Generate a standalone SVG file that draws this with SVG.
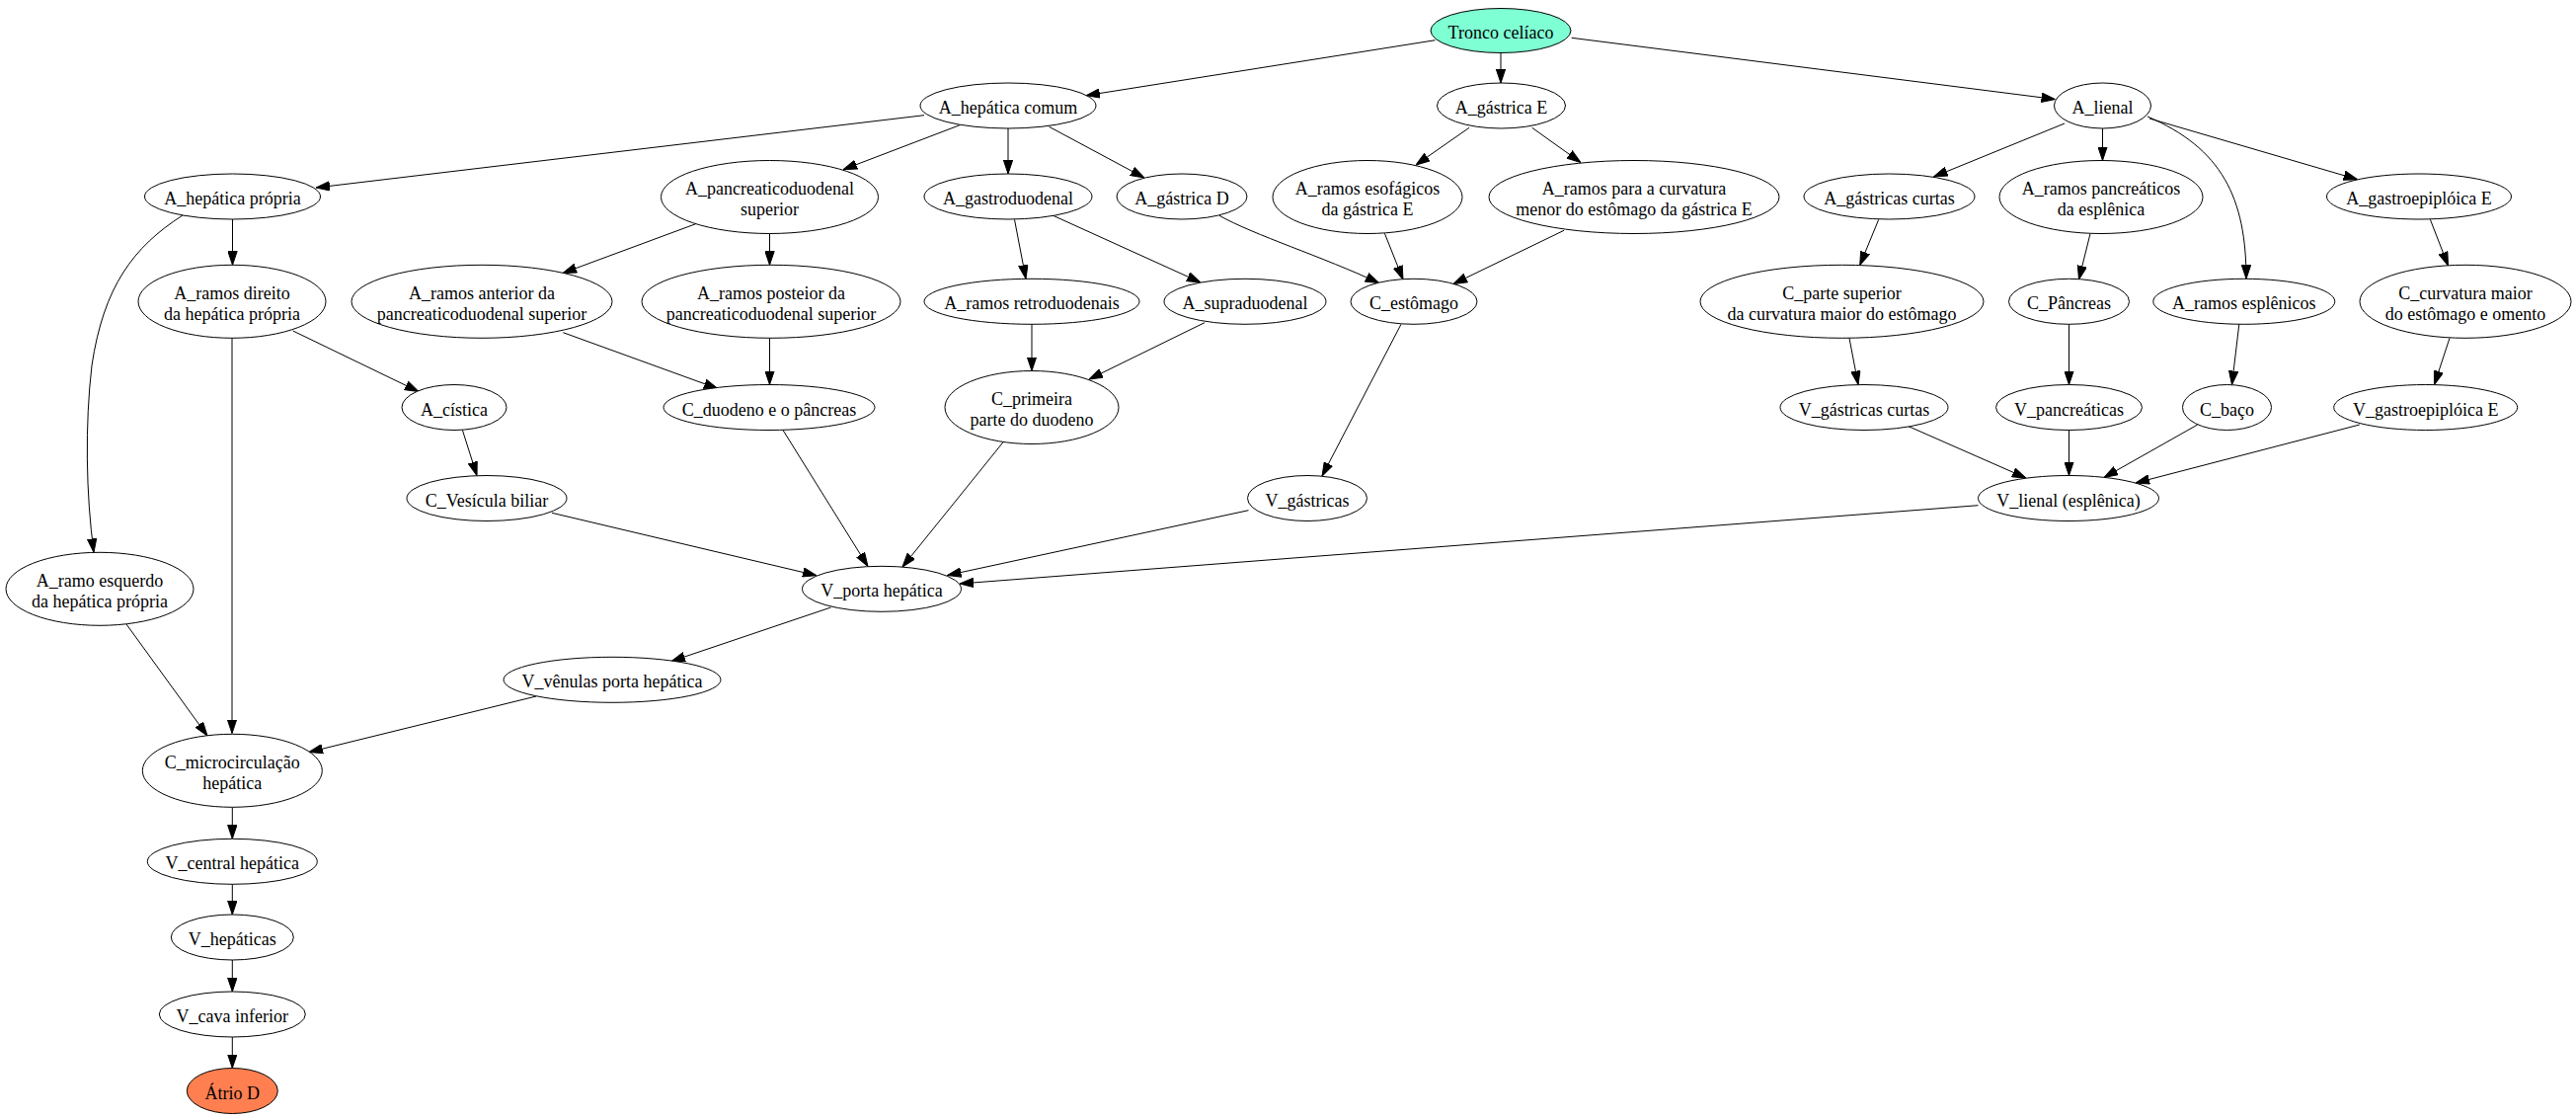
<svg xmlns="http://www.w3.org/2000/svg" width="2609" height="1133" viewBox="0 0 2609 1133">
<style>
.n ellipse{fill:#fff;stroke:#000;stroke-width:1}
.n text{font-family:"Liberation Serif","Times New Roman",serif;font-size:18px;fill:#000;text-anchor:middle}
#edges path{fill:none;stroke:#000;stroke-width:1;marker-end:url(#ah)}
</style>
<defs>
<marker id="ah" viewBox="0 0 14 10" refX="14" refY="5" markerWidth="14" markerHeight="10" markerUnits="userSpaceOnUse" orient="auto">
<path d="M0,0.3 L14,5 L0,9.7 z" fill="#000" stroke="#000" stroke-width="1"/>
</marker>
</defs>
<rect width="2609" height="1133" fill="#fff"/>
<g id="edges">
<path d="M1453.6,40.7 L1100,96.7"/>
<path d="M1520,53.5 L1520,84"/>
<path d="M1591.7,38.3 L2081.5,100.5"/>
<path d="M936,116.7 L320,190"/>
<path d="M972,126.7 L854,171.7"/>
<path d="M1021,130 L1021,176"/>
<path d="M1062.5,128.3 L1159,180"/>
<path d="M1488,129.3 L1434,167"/>
<path d="M1551.7,129.3 L1601,164.5"/>
<path d="M2091,125 L1958.5,179"/>
<path d="M2129.5,130 L2129.5,162.5"/>
<path d="M2175,118 C2250,150 2275,200 2275,282.3"/>
<path d="M2177,120 L2387.7,181.7"/>
<path d="M235.5,222 L235.5,268.3"/>
<path d="M185,218 C135,250 105,290 93,370 C86,430 87,500 95,559.3"/>
<path d="M704.7,226.7 L570,276.5"/>
<path d="M779.5,236.3 L779.5,268.3"/>
<path d="M1027.5,222.3 L1039,282.3"/>
<path d="M1066.7,218.3 L1216,286"/>
<path d="M1235,218.3 C1270,238 1340,260 1396.8,286.7"/>
<path d="M1402.4,236.3 L1421,283"/>
<path d="M1584,233.3 L1472,287.5"/>
<path d="M1902.7,222.3 L1883.7,268.5"/>
<path d="M2117,236.7 L2105.5,283"/>
<path d="M2461.4,222.3 L2479.5,269"/>
<path d="M296.7,335 L424,396.5"/>
<path d="M235,342.3 L235,742.5"/>
<path d="M570.3,336.7 L727,393.5"/>
<path d="M779.5,342.3 L779.5,389.5"/>
<path d="M1045,328.3 L1045,375.5"/>
<path d="M1220,326.7 L1103,384"/>
<path d="M1419,328.3 L1339,482"/>
<path d="M1873,342.3 L1882,389.5"/>
<path d="M2095.5,328.3 L2095.5,389.5"/>
<path d="M2267.8,328.3 L2260.5,389.5"/>
<path d="M2481,342.3 L2465.5,389.5"/>
<path d="M468.4,435.5 L483,481.5"/>
<path d="M559,519.3 L827,582.7"/>
<path d="M793,435.5 L879,573.5"/>
<path d="M1016,447.7 L914,574"/>
<path d="M1264.5,516.7 L959.5,582.5"/>
<path d="M2003.5,511.7 L972,591"/>
<path d="M1933,431.7 L2052,484"/>
<path d="M2095.5,435.5 L2095.5,481.5"/>
<path d="M2225.7,430 L2131,483.5"/>
<path d="M2389.8,430 L2163,489"/>
<path d="M128,632 L210,745"/>
<path d="M841.5,615 L680,669.5"/>
<path d="M543,705 L313,761.5"/>
<path d="M235.3,817.3 L235.3,849.3"/>
<path d="M235.3,895.3 L235.3,926"/>
<path d="M235.3,972 L235.3,1004"/>
<path d="M235.3,1050 L235.3,1081.5"/>
</g>
<g id="n1" class="n"><ellipse cx="1520" cy="31" rx="71" ry="22.5" style="fill:#7fffd4"/><text x="1520" y="39">Tronco celíaco</text></g>
<g id="n2" class="n"><ellipse cx="1021" cy="107" rx="89" ry="23"/><text x="1021" y="115">A_hepática comum</text></g>
<g id="n3" class="n"><ellipse cx="1520.5" cy="107" rx="65" ry="23"/><text x="1520.5" y="115">A_gástrica E</text></g>
<g id="n4" class="n"><ellipse cx="2129.5" cy="107" rx="49" ry="23"/><text x="2129.5" y="115">A_lienal</text></g>
<g id="n5" class="n"><ellipse cx="235.5" cy="199" rx="89" ry="23"/><text x="235.5" y="207">A_hepática própria</text></g>
<g id="n6" class="n"><ellipse cx="779.5" cy="199.5" rx="110" ry="37"/><text x="779.5" y="196.8">A_pancreaticoduodenal</text><text x="779.5" y="218.2">superior</text></g>
<g id="n7" class="n"><ellipse cx="1021" cy="199" rx="85" ry="23"/><text x="1021" y="207">A_gastroduodenal</text></g>
<g id="n8" class="n"><ellipse cx="1197" cy="199" rx="66" ry="23"/><text x="1197" y="207">A_gástrica D</text></g>
<g id="n9" class="n"><ellipse cx="1385" cy="199.5" rx="96" ry="37"/><text x="1385" y="196.8">A_ramos esofágicos</text><text x="1385" y="218.2">da gástrica E</text></g>
<g id="n10" class="n"><ellipse cx="1655" cy="199.5" rx="147" ry="37"/><text x="1655" y="196.8">A_ramos para a curvatura</text><text x="1655" y="218.2">menor do estômago da gástrica E</text></g>
<g id="n11" class="n"><ellipse cx="1913.5" cy="199" rx="86.5" ry="23"/><text x="1913.5" y="207">A_gástricas curtas</text></g>
<g id="n12" class="n"><ellipse cx="2128" cy="199.5" rx="103" ry="37"/><text x="2128" y="196.8">A_ramos pancreáticos</text><text x="2128" y="218.2">da esplênica</text></g>
<g id="n13" class="n"><ellipse cx="2450" cy="199" rx="93.5" ry="23"/><text x="2450" y="207">A_gastroepiplóica E</text></g>
<g id="n14" class="n"><ellipse cx="235" cy="305.3" rx="95" ry="37"/><text x="235" y="302.6">A_ramos direito</text><text x="235" y="324">da hepática própria</text></g>
<g id="n15" class="n"><ellipse cx="488" cy="305.3" rx="132" ry="37"/><text x="488" y="302.6">A_ramos anterior da</text><text x="488" y="324">pancreaticoduodenal superior</text></g>
<g id="n16" class="n"><ellipse cx="781" cy="305.3" rx="131" ry="37"/><text x="781" y="302.6">A_ramos posteior da</text><text x="781" y="324">pancreaticoduodenal superior</text></g>
<g id="n17" class="n"><ellipse cx="1045" cy="305.3" rx="109" ry="23"/><text x="1045" y="313.3">A_ramos retroduodenais</text></g>
<g id="n18" class="n"><ellipse cx="1261" cy="305.3" rx="82" ry="23"/><text x="1261" y="313.3">A_supraduodenal</text></g>
<g id="n19" class="n"><ellipse cx="1432" cy="305.3" rx="64" ry="23"/><text x="1432" y="313.3">C_estômago</text></g>
<g id="n20" class="n"><ellipse cx="1865.5" cy="305.3" rx="143.5" ry="37"/><text x="1865.5" y="302.6">C_parte superior</text><text x="1865.5" y="324">da curvatura maior do estômago</text></g>
<g id="n21" class="n"><ellipse cx="2095.5" cy="305.3" rx="61" ry="23"/><text x="2095.5" y="313.3">C_Pâncreas</text></g>
<g id="n22" class="n"><ellipse cx="2272.8" cy="305.3" rx="92" ry="23"/><text x="2272.8" y="313.3">A_ramos esplênicos</text></g>
<g id="n23" class="n"><ellipse cx="2497" cy="305.3" rx="107" ry="37"/><text x="2497" y="302.6">C_curvatura maior</text><text x="2497" y="324">do estômago e omento</text></g>
<g id="n24" class="n"><ellipse cx="460" cy="412.5" rx="53" ry="23"/><text x="460" y="420.5">A_cística</text></g>
<g id="n25" class="n"><ellipse cx="779" cy="412.5" rx="107" ry="23"/><text x="779" y="420.5">C_duodeno e o pâncreas</text></g>
<g id="n26" class="n"><ellipse cx="1045" cy="412.5" rx="88" ry="37"/><text x="1045" y="409.8">C_primeira</text><text x="1045" y="431.2">parte do duodeno</text></g>
<g id="n27" class="n"><ellipse cx="1888" cy="412.5" rx="85" ry="23"/><text x="1888" y="420.5">V_gástricas curtas</text></g>
<g id="n28" class="n"><ellipse cx="2095.5" cy="412.5" rx="74" ry="23"/><text x="2095.5" y="420.5">V_pancreáticas</text></g>
<g id="n29" class="n"><ellipse cx="2255.5" cy="412.5" rx="45" ry="23"/><text x="2255.5" y="420.5">C_baço</text></g>
<g id="n30" class="n"><ellipse cx="2456.7" cy="412.5" rx="93" ry="23"/><text x="2456.7" y="420.5">V_gastroepiplóica E</text></g>
<g id="n31" class="n"><ellipse cx="493" cy="504.5" rx="81" ry="23"/><text x="493" y="512.5">C_Vesícula biliar</text></g>
<g id="n32" class="n"><ellipse cx="1324" cy="504.5" rx="60.5" ry="23"/><text x="1324" y="512.5">V_gástricas</text></g>
<g id="n33" class="n"><ellipse cx="2095" cy="504.5" rx="91.5" ry="23"/><text x="2095" y="512.5">V_lienal (esplênica)</text></g>
<g id="n34" class="n"><ellipse cx="101" cy="596.3" rx="95" ry="37"/><text x="101" y="593.6">A_ramo esquerdo</text><text x="101" y="615">da hepática própria</text></g>
<g id="n35" class="n"><ellipse cx="893" cy="596.3" rx="80.5" ry="23"/><text x="893" y="604.3">V_porta hepática</text></g>
<g id="n36" class="n"><ellipse cx="620" cy="688.3" rx="110" ry="23"/><text x="620" y="696.3">V_vênulas porta hepática</text></g>
<g id="n37" class="n"><ellipse cx="235.3" cy="780.3" rx="91" ry="37"/><text x="235.3" y="777.6">C_microcirculação</text><text x="235.3" y="799">hepática</text></g>
<g id="n38" class="n"><ellipse cx="235.3" cy="872.3" rx="86" ry="23"/><text x="235.3" y="880.3">V_central hepática</text></g>
<g id="n39" class="n"><ellipse cx="235.3" cy="949" rx="62" ry="23"/><text x="235.3" y="957">V_hepáticas</text></g>
<g id="n40" class="n"><ellipse cx="235.3" cy="1027" rx="74" ry="23"/><text x="235.3" y="1035">V_cava inferior</text></g>
<g id="n41" class="n"><ellipse cx="235.3" cy="1104.5" rx="46" ry="23" style="fill:#ff7f50"/><text x="235.3" y="1112.5">Átrio D</text></g>
</svg>
